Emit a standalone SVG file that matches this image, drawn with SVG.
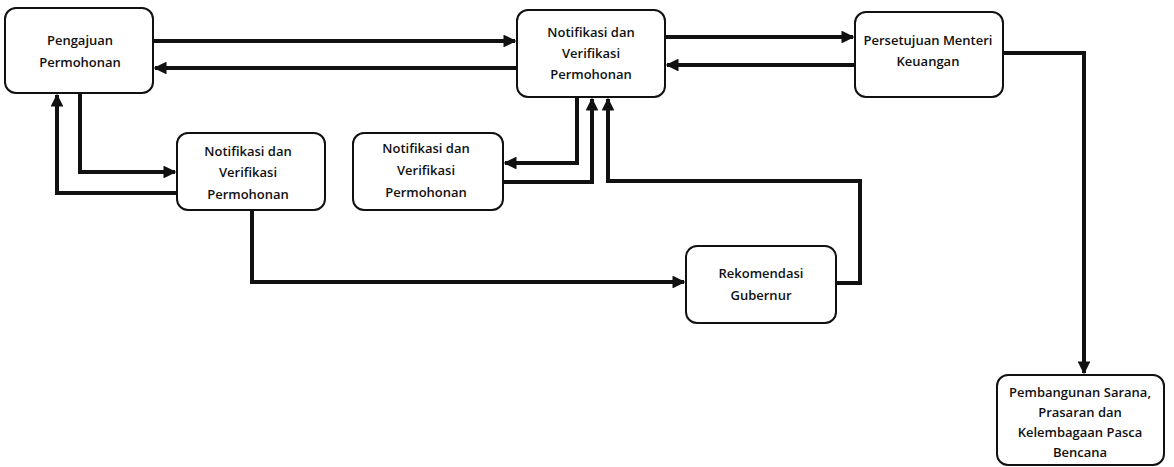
<svg xmlns="http://www.w3.org/2000/svg" width="1174" height="467" viewBox="0 0 1174 467">
<style>
.box{fill:#fff;stroke:#111;stroke-width:2}
.t{font-family:"Open Sans","Liberation Sans",Arial,sans-serif;font-size:13px;font-weight:600;fill:#111;text-anchor:middle}
.c{fill:none;stroke:#111;stroke-width:4}
</style>
<defs>
<marker id="ah" viewBox="0 0 10 10" refX="9" refY="5" markerWidth="3.2" markerHeight="3.2" orient="auto" markerUnits="strokeWidth">
<path d="M0,0 L10,5 L0,10 z" fill="#111"/>
</marker>
</defs>
<rect width="1174" height="467" fill="#fff"/>
<g id="connectors">
<path class="c" d="M153,41 H515" marker-end="url(#ah)"/>
<path class="c" d="M517,68 H155" marker-end="url(#ah)"/>
<path class="c" d="M665,37 H853" marker-end="url(#ah)"/>
<path class="c" d="M855,65 H667" marker-end="url(#ah)"/>
<path class="c" d="M80,93 V172 H175" marker-end="url(#ah)"/>
<path class="c" d="M177,193 H57 V95" marker-end="url(#ah)"/>
<path class="c" d="M577,97 V163 H505" marker-end="url(#ah)"/>
<path class="c" d="M503,182 H592 V99" marker-end="url(#ah)"/>
<path class="c" d="M252,210 V282 H684" marker-end="url(#ah)"/>
<path class="c" d="M836,283 H860 V181 H608 V99" marker-end="url(#ah)"/>
<path class="c" d="M1003,53 H1084 V373" marker-end="url(#ah)"/>
</g>
<g id="n1">
<rect class="box" x="5" y="8" width="148" height="85" rx="11"/>
<text class="t" x="80" y="45">Pengajuan</text>
<text class="t" x="80" y="67">Permohonan</text>
</g>
<g id="n2">
<rect class="box" x="517" y="10" width="148" height="87" rx="11"/>
<text class="t" x="591" y="37">Notifikasi dan</text>
<text class="t" x="591" y="58">Verifikasi</text>
<text class="t" x="591" y="79">Permohonan</text>
</g>
<g id="n3">
<rect class="box" x="177" y="133" width="148" height="77" rx="11"/>
<text class="t" x="248" y="156">Notifikasi dan</text>
<text class="t" x="248" y="177">Verifikasi</text>
<text class="t" x="248" y="199">Permohonan</text>
</g>
<g id="n4">
<rect class="box" x="353" y="133" width="150" height="77" rx="11"/>
<text class="t" x="426" y="153">Notifikasi dan</text>
<text class="t" x="426" y="175">Verifikasi</text>
<text class="t" x="426" y="197">Permohonan</text>
</g>
<g id="n5">
<rect class="box" x="855" y="12" width="148" height="85" rx="11"/>
<text class="t" x="928" y="45">Persetujuan Menteri</text>
<text class="t" x="928" y="66">Keuangan</text>
</g>
<g id="n6">
<rect class="box" x="686" y="246" width="150" height="77" rx="11"/>
<text class="t" x="761" y="278">Rekomendasi</text>
<text class="t" x="761" y="300">Gubernur</text>
</g>
<g id="n7">
<rect class="box" x="997" y="375" width="167" height="90" rx="11"/>
<text class="t" x="1080" y="397">Pembangunan Sarana,</text>
<text class="t" x="1080" y="417">Prasaran dan</text>
<text class="t" x="1080" y="437">Kelembagaan Pasca</text>
<text class="t" x="1080" y="457">Bencana</text>
</g>
</svg>
